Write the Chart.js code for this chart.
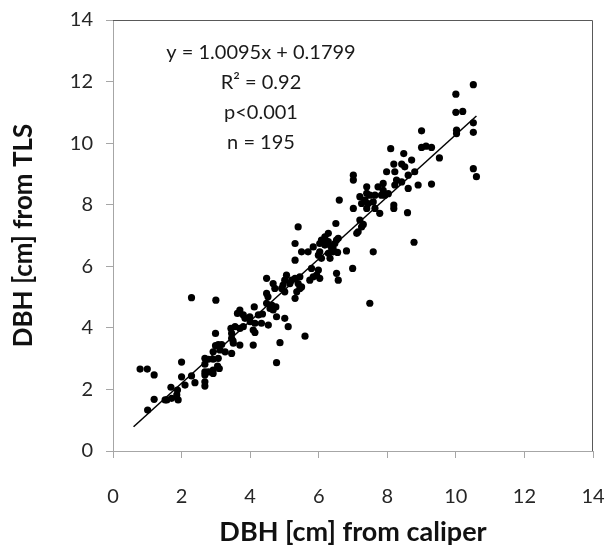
<!DOCTYPE html>
<html>
<head>
<meta charset="utf-8">
<script src="https://cdn.jsdelivr.net/npm/chart.js@4"></script>
<style>
  html, body { margin: 0; padding: 0; background: #fff; }
  #wrap { width: 606px; height: 545px; }
</style>
</head>
<body>
<div id="wrap"><canvas id="myChart" width="606" height="545"></canvas></div>
<script>
// DBH from caliper (x) vs DBH from TLS (y)
const caliperDbh = [
  0.79, 1.00, 1.20, 1.01, 1.20, 1.52, 1.57, 1.90, 1.69, 1.88,
  1.86, 2.00, 2.00, 2.10, 2.29, 2.39, 2.68, 2.78, 2.92, 3.07,
  2.68, 2.68, 2.78, 2.92, 3.10, 2.92, 2.68, 2.68, 2.99, 3.07,
  3.17, 2.99, 3.27, 3.46, 3.46, 3.44, 3.56, 3.70, 3.46, 3.63,
  3.70, 3.85, 3.99, 4.12, 4.24, 4.09, 4.09, 4.14, 3.80, 4.33,
  4.00, 4.14, 3.70, 3.12, 2.92, 2.68, 4.36, 3.50, 4.48, 4.48,
  4.67, 4.72, 4.63, 4.58, 4.67, 4.48, 4.77, 5.01, 5.11, 5.60,
  4.87, 4.77, 2.29, 3.00, 6.28, 6.18, 6.08, 6.28, 6.18, 6.47,
  6.03, 6.28, 6.42, 5.31, 5.50, 5.69, 5.84, 5.31, 5.99, 5.79,
  5.99, 5.94, 5.74, 5.45, 5.45, 5.36, 5.40, 5.21, 5.06, 5.01,
  4.96, 5.01, 5.31, 6.52, 6.57, 6.33, 7.01, 7.01, 7.98, 8.22,
  8.27, 8.22, 7.88, 7.73, 7.40, 7.49, 7.64, 7.20, 7.35, 7.25,
  7.44, 7.59, 7.40, 7.64, 7.93, 7.78, 6.60, 7.01, 7.20, 7.25,
  7.15, 7.11, 6.50, 6.57, 6.81, 7.59, 6.99, 7.49, 5.40, 6.55,
  7.40, 10.51, 10.00, 10.00, 10.20, 10.02, 10.02, 10.51, 10.51, 10.51,
  10.60, 9.00, 9.00, 9.13, 9.29, 9.52, 8.10, 8.48, 8.71, 8.19,
  8.42, 8.51, 8.80, 8.61, 8.42, 8.61, 8.90, 9.29, 8.59, 8.78,
  8.19, 8.19, 6.35, 6.42, 6.08, 5.84, 6.03, 5.31, 4.92, 5.16,
  5.50, 4.52, 8.03, 7.88, 7.30, 6.52, 6.03, 1.71, 3.05, 3.51,
  4.53, 4.75, 3.80, 6.23, 7.83
];
const tlsDbh = [
  2.66, 2.66, 2.47, 1.33, 1.68, 1.66, 1.66, 1.66, 2.07, 1.98,
  1.82, 2.41, 2.89, 2.14, 2.44, 2.22, 3.01, 2.98, 2.98, 3.01,
  2.57, 2.47, 2.57, 2.63, 2.68, 2.52, 2.25, 2.11, 3.42, 3.46,
  3.46, 3.82, 3.22, 3.17, 3.82, 3.98, 4.04, 3.98, 3.66, 4.47,
  4.58, 4.31, 4.36, 4.68, 4.42, 3.93, 3.44, 4.15, 4.04, 4.15,
  4.20, 3.85, 3.44, 3.28, 3.22, 2.82, 4.45, 3.58, 5.61, 5.12,
  5.44, 5.28, 4.74, 4.63, 4.58, 4.80, 4.36, 4.31, 4.04, 3.73,
  3.52, 2.87, 4.98, 4.90, 7.07, 6.96, 6.85, 6.80, 6.69, 6.74,
  6.47, 6.42, 6.47, 6.74, 6.47, 6.47, 6.63, 6.20, 6.36, 5.93,
  5.88, 5.71, 5.55, 5.66, 5.28, 5.17, 5.44, 5.55, 5.71, 5.55,
  5.39, 5.17, 4.96, 5.77, 5.55, 6.26, 8.96, 8.80, 9.07, 9.07,
  8.80, 8.64, 8.69, 8.58, 8.58, 8.31, 8.31, 8.26, 8.15, 8.04,
  8.04, 8.09, 7.88, 7.88, 8.31, 7.72, 8.15, 7.88, 7.50, 7.28,
  7.12, 7.07, 7.39, 6.91, 6.50, 6.47, 5.93, 4.80, 7.28, 6.45,
  8.37, 11.90, 11.59, 11.00, 11.03, 10.42, 10.31, 10.66, 10.35, 9.17,
  8.91, 10.40, 9.86, 9.90, 9.86, 9.52, 9.82, 9.66, 9.45, 9.32,
  9.32, 9.23, 9.07, 8.96, 8.74, 8.53, 8.64, 8.67, 7.74, 6.78,
  7.99, 7.88, 6.66, 6.58, 6.26, 5.66, 5.61, 5.61, 5.28, 5.44,
  5.33, 5.01, 8.36, 8.47, 7.36, 6.85, 6.74, 1.71, 2.76, 3.50,
  4.09, 4.68, 4.42, 6.80, 8.31
];

// fitted trendline as printed on the figure
const fitSlope = 1.0095;
const fitIntercept = 0.1799;
const fitRange = [0.6, 10.6];
const statLines = ['y = 1.0095x + 0.1799', 'R² = 0.92', 'p<0.001', 'n = 195'];

const axisTicks = [0, 2, 4, 6, 8, 10, 12, 14];
const xTitle = 'DBH [cm] from caliper';
const yTitle = 'DBH [cm] from TLS';

const FONT = 'Lato, "Open Sans", sans-serif';

const points = caliperDbh.map((x, i) => ({ x: x, y: tlsDbh[i] }));
const fitPoints = fitRange.map(x => ({ x: x, y: fitSlope * x + fitIntercept }));

// darker border on top/right of the plot, plus the regression stats text
const framePlugin = {
  id: 'frame',
  afterDraw(chart) {
    const { ctx, chartArea } = chart;
    ctx.save();
    ctx.strokeStyle = '#595959';
    ctx.lineWidth = 1;
    ctx.beginPath();
    ctx.moveTo(chartArea.left, chartArea.top + 0.5);
    ctx.lineTo(chartArea.right - 0.5, chartArea.top + 0.5);
    ctx.lineTo(chartArea.right - 0.5, chartArea.bottom);
    ctx.stroke();

    ctx.fillStyle = '#1a1a1a';
    ctx.font = '20px ' + FONT;
    ctx.textAlign = 'center';
    ctx.textBaseline = 'middle';
    const cx = chartArea.left + 148;
    statLines.forEach((t, i) => {
      ctx.fillText(t, cx, chartArea.top + 33 + i * 29.7);
    });
    ctx.restore();
  }
};

const ctx = document.getElementById('myChart').getContext('2d');
const chart = new Chart(ctx, {
  type: 'scatter',
  data: {
    datasets: [
      {
        label: 'DBH',
        data: points,
        backgroundColor: '#000',
        borderColor: '#000',
        pointRadius: 3.6,
        pointBorderWidth: 0,
        showLine: false
      },
      {
        type: 'line',
        label: 'fit',
        data: fitPoints,
        borderColor: '#000',
        borderWidth: 1.5,
        pointRadius: 0,
        fill: false
      }
    ]
  },
  options: {
    responsive: false,
    animation: false,
    layout: { padding: { top: 20, right: 13, left: 0, bottom: 0 } },
    plugins: {
      legend: { display: false },
      tooltip: { enabled: false }
    },
    scales: {
      x: {
        type: 'linear',
        min: 0,
        max: 14,
        afterBuildTicks: (scale) => { scale.ticks = axisTicks.map(v => ({ value: v })); },
        afterFit: (scale) => {
          scale.height = 94;
          scale.paddingLeft = 0;
          scale.paddingRight = 0;
        },
        ticks: { color: '#262626', font: { family: FONT, size: 20 }, padding: 27 },
        grid: { display: true, drawOnChartArea: false, drawTicks: true, tickLength: 7, color: '#a6a6a6' },
        border: { color: '#a6a6a6', width: 1 },
        title: {
          display: true,
          text: xTitle,
          color: '#111',
          font: { family: FONT, size: 27, weight: 'bold' },
          padding: { top: 0, bottom: -3 }
        }
      },
      y: {
        type: 'linear',
        min: 0,
        max: 14,
        afterBuildTicks: (scale) => { scale.ticks = axisTicks.map(v => ({ value: v })); },
        afterFit: (scale) => {
          scale.width = 113;
          scale.paddingTop = 0;
          scale.paddingBottom = 0;
        },
        ticks: { color: '#262626', font: { family: FONT, size: 20 }, padding: 13 },
        grid: { display: true, drawOnChartArea: false, drawTicks: true, tickLength: 7, color: '#a6a6a6' },
        border: { color: '#a6a6a6', width: 1 },
        title: {
          display: true,
          text: yTitle,
          color: '#111',
          font: { family: FONT, size: 26, weight: 'bold' },
          padding: { top: 8, bottom: 0 }
        }
      }
    }
  },
  plugins: [framePlugin]
});
</script>
</body>
</html>
